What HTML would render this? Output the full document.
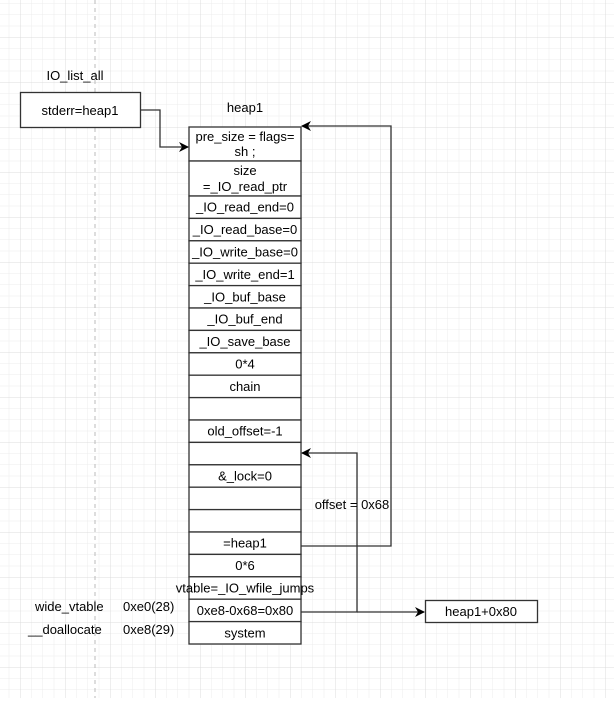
<!DOCTYPE html>
<html><head><meta charset="utf-8"><style>
body{margin:0;background:#fff}
svg text{font-family:"Liberation Sans",Arial,sans-serif;font-size:13px;fill:#000}
</style></head><body>
<svg width="614" height="698" xmlns="http://www.w3.org/2000/svg">
<defs>
<pattern id="mi" x="20" y="37" width="11.25" height="11.25" patternUnits="userSpaceOnUse"><path d="M0 0H11.25M0 0V11.25" stroke="#ececec" stroke-width="1" fill="none"/></pattern>
<pattern id="ma" x="20" y="37" width="45" height="45" patternUnits="userSpaceOnUse"><path d="M0 0H45M0 0V45" stroke="#dcdcdc" stroke-width="1" fill="none"/></pattern>
<marker id="ar" markerWidth="10" markerHeight="10" refX="9" refY="5" orient="auto" markerUnits="userSpaceOnUse"><path d="M0 0L10 5L0 10L3 5Z" fill="#000"/></marker>
</defs>
<rect width="614" height="698" fill="url(#mi)"/>
<rect width="614" height="698" fill="url(#ma)"/>
<line x1="95" y1="0" x2="95" y2="698" stroke="#bbb" stroke-dasharray="4 4"/>
<text x="75" y="80" text-anchor="middle">IO_list_all</text>
<rect x="20.5" y="92.5" width="120" height="35" fill="#fff" stroke="#333" stroke-width="1.3"/>
<text x="80" y="115" text-anchor="middle">stderr=heap1</text>
<text x="245" y="112" text-anchor="middle">heap1</text>
<g stroke="#333" stroke-width="1.3" fill="#fff">
<rect x="189" y="127" width="112" height="34"/>
<rect x="189" y="161" width="112" height="35"/>
</g>
<text x="245" y="141" text-anchor="middle">pre_size = flags=</text>
<text x="245" y="156" text-anchor="middle">sh ;</text>
<text x="245" y="175" text-anchor="middle">size</text>
<text x="245" y="191" text-anchor="middle">=_IO_read_ptr</text>
<g text-anchor="middle">
<rect x="189" y="196.0" width="112" height="22.4" fill="#fff" stroke="#333" stroke-width="1.3"/><text x="245" y="211.7">_IO_read_end=0</text>
<rect x="189" y="218.4" width="112" height="22.4" fill="#fff" stroke="#333" stroke-width="1.3"/><text x="245" y="234.1">_IO_read_base=0</text>
<rect x="189" y="240.8" width="112" height="22.4" fill="#fff" stroke="#333" stroke-width="1.3"/><text x="245" y="256.5">_IO_write_base=0</text>
<rect x="189" y="263.2" width="112" height="22.4" fill="#fff" stroke="#333" stroke-width="1.3"/><text x="245" y="278.9">_IO_write_end=1</text>
<rect x="189" y="285.6" width="112" height="22.4" fill="#fff" stroke="#333" stroke-width="1.3"/><text x="245" y="301.3">_IO_buf_base</text>
<rect x="189" y="308.0" width="112" height="22.4" fill="#fff" stroke="#333" stroke-width="1.3"/><text x="245" y="323.7">_IO_buf_end</text>
<rect x="189" y="330.4" width="112" height="22.4" fill="#fff" stroke="#333" stroke-width="1.3"/><text x="245" y="346.1">_IO_save_base</text>
<rect x="189" y="352.8" width="112" height="22.4" fill="#fff" stroke="#333" stroke-width="1.3"/><text x="245" y="368.5">0*4</text>
<rect x="189" y="375.2" width="112" height="22.4" fill="#fff" stroke="#333" stroke-width="1.3"/><text x="245" y="390.9">chain</text>
<rect x="189" y="397.6" width="112" height="22.4" fill="#fff" stroke="#333" stroke-width="1.3"/>
<rect x="189" y="420.0" width="112" height="22.4" fill="#fff" stroke="#333" stroke-width="1.3"/><text x="245" y="435.7">old_offset=-1</text>
<rect x="189" y="442.4" width="112" height="22.4" fill="#fff" stroke="#333" stroke-width="1.3"/>
<rect x="189" y="464.8" width="112" height="22.4" fill="#fff" stroke="#333" stroke-width="1.3"/><text x="245" y="480.5">&amp;_lock=0</text>
<rect x="189" y="487.2" width="112" height="22.4" fill="#fff" stroke="#333" stroke-width="1.3"/>
<rect x="189" y="509.6" width="112" height="22.4" fill="#fff" stroke="#333" stroke-width="1.3"/>
<rect x="189" y="532.0" width="112" height="22.4" fill="#fff" stroke="#333" stroke-width="1.3"/><text x="245" y="547.7">=heap1</text>
<rect x="189" y="554.4" width="112" height="22.4" fill="#fff" stroke="#333" stroke-width="1.3"/><text x="245" y="570.1">0*6</text>
<rect x="189" y="576.8" width="112" height="22.4" fill="#fff" stroke="#333" stroke-width="1.3"/><text x="245" y="592.5">vtable=_IO_wfile_jumps</text>
<rect x="189" y="599.2" width="112" height="22.4" fill="#fff" stroke="#333" stroke-width="1.3"/><text x="245" y="614.9">0xe8-0x68=0x80</text>
<rect x="189" y="621.6" width="112" height="22.4" fill="#fff" stroke="#333" stroke-width="1.3"/><text x="245" y="637.3">system</text>
</g>
<g fill="none" stroke="#333" stroke-width="1.3">
<path d="M141 110H160V147H188" marker-end="url(#ar)"/>
<path d="M301 546H391V126H302" marker-end="url(#ar)"/>
<path d="M301 612H357V453H302" marker-end="url(#ar)"/>
<path d="M357 612H424" marker-end="url(#ar)"/>
</g>
<text x="352" y="509" text-anchor="middle">offset = 0x68</text>
<rect x="425.5" y="600.5" width="112" height="22" fill="#fff" stroke="#333" stroke-width="1.3"/>
<text x="481" y="616" text-anchor="middle">heap1+0x80</text>
<text x="35" y="611">wide_vtable</text>
<text x="123" y="611">0xe0(28)</text>
<text x="28" y="634">__doallocate</text>
<text x="123" y="634">0xe8(29)</text>
</svg>
</body></html>
